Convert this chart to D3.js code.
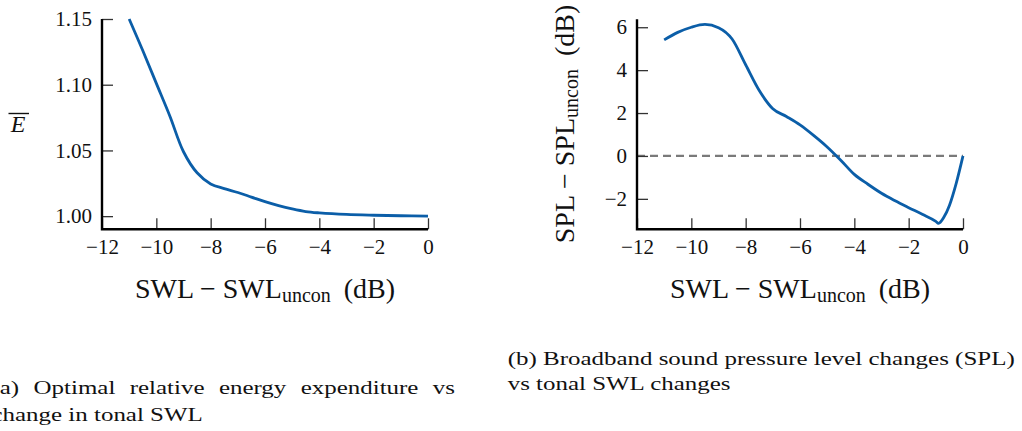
<!DOCTYPE html>
<html>
<head>
<meta charset="utf-8">
<script src="https://cdn.jsdelivr.net/npm/d3@7"></script>
<style>
  html, body { margin: 0; padding: 0; background: #fff; }
  svg text { font-family: "Liberation Serif", "Times New Roman", Times, serif; }
</style>
</head>
<body>
<svg id="fig" width="1022" height="431"></svg>
<script>
// Shared x axis: change in tonal sound power level (dB)
const xTickValues = [-12, -10, -8, -6, -4, -2, 0];

// (a) optimal relative energy expenditure
const energyX = [-11, -10.5, -10, -9.5, -9, -8.5, -8, -7.5, -7, -6.5, -6, -5.5, -5, -4.5, -4, -3, -2, -1, 0];
const energyY = [1.150, 1.126, 1.101, 1.076, 1.049, 1.033, 1.0245, 1.021, 1.018, 1.0145, 1.011, 1.008, 1.0055, 1.0035, 1.0025, 1.0013, 1.0007, 1.0003, 1.000];
const energyTicks = [1.00, 1.05, 1.10, 1.15];

// (b) broadband SPL change
const splX = [-11, -10.5, -10, -9.5, -9, -8.5, -8, -7.5, -7, -6.5, -6, -5.5, -5, -4.5, -4, -3.5, -3, -2.5, -2, -1.5, -1, -0.9, -0.7, -0.5, -0.25, 0];
const splY = [5.41, 5.76, 6.00, 6.13, 5.98, 5.45, 4.25, 3.05, 2.20, 1.84, 1.45, 0.96, 0.42, -0.20, -0.86, -1.32, -1.74, -2.09, -2.41, -2.72, -3.05, -3.14, -2.85, -2.31, -1.28, 0];
const splTicks = [-2, 0, 2, 4, 6];

const captionA = ["(a) Optimal relative energy expenditure vs", "change in tonal SWL"];
const captionB = ["(b) Broadband sound pressure level changes (SPL)", "vs tonal SWL changes"];

const svg = d3.select("#fig");
const BLUE = "#0b5ea8";
const INK = "#111";
const SERIF = "'Liberation Serif', 'Times New Roman', Times, serif";
const minus = d => (d < 0 ? "\u2212" + Math.abs(d) : String(d));

function panel(cfg) {
  const x = d3.scaleLinear().domain([-12, 0]).range([cfg.x0, cfg.x1]);
  const y = d3.scaleLinear().domain(cfg.yDomain).range([cfg.yBottom, cfg.yTop]);
  const g = svg.append("g");

  // reference line at zero
  if (cfg.zeroLine) {
    g.append("line")
      .attr("x1", x(-12)).attr("x2", x(0))
      .attr("y1", y(0)).attr("y2", y(0))
      .attr("stroke", "#7a7a7a").attr("stroke-width", 2.2)
      .attr("stroke-dasharray", "8 5");
  }

  // data curve
  g.append("path")
    .datum(cfg.xs.map((v, i) => [v, cfg.ys[i]]))
    .attr("fill", "none").attr("stroke", BLUE).attr("stroke-width", 2.8)
    .attr("stroke-linejoin", "round")
    .attr("d", d3.line().x(d => x(d[0])).y(d => y(d[1])).curve(cfg.curve));

  // x ticks (inward) and labels
  const gx = g.append("g").attr("transform", `translate(0,${cfg.yBottom})`)
    .call(d3.axisBottom(x).tickValues(xTickValues).tickSizeInner(-11).tickSizeOuter(0)
      .tickPadding(10).tickFormat(minus));
  // y ticks (inward) and labels
  const gy = g.append("g").attr("transform", `translate(${cfg.x0},0)`)
    .call(d3.axisLeft(y).tickValues(cfg.ticks).tickSizeInner(-11).tickSizeOuter(0)
      .tickPadding(10).tickFormat(cfg.fmt));
  [gx, gy].forEach(a => {
    a.attr("font-family", SERIF).attr("font-size", 21);
    a.select(".domain").remove();
    a.selectAll(".tick line").attr("stroke", "#333").attr("stroke-width", 1.3);
    a.selectAll(".tick text").attr("fill", INK).style("font-family", SERIF).style("font-size", "21px");
  });

  // axis lines
  g.append("path")
    .attr("d", `M${cfg.x0},${cfg.yTop}V${cfg.yBottom}H${cfg.x1}`)
    .attr("fill", "none").attr("stroke", "#000").attr("stroke-width", 2.4);

  // x axis title with subscript
  const cx = (cfg.x0 + cfg.x1) / 2;
  const t = g.append("text").attr("x", cx).attr("y", 298)
    .attr("text-anchor", "middle").attr("fill", INK)
    .style("font-family", SERIF).style("font-size", "28px");
  t.append("tspan").text("SWL \u2212 SWL");
  t.append("tspan").text("uncon").style("font-size", "20px").attr("dy", 4);
  t.append("tspan").text("(dB)").attr("dy", -4).attr("dx", 13);
  return { g, x, y };
}

// (a)
const pa = panel({
  x0: 102, x1: 428, yTop: 19, yBottom: 229.3,
  yDomain: [0.99, 1.15], ticks: energyTicks, fmt: d3.format(".2f"),
  xs: energyX, ys: energyY, zeroLine: false, curve: d3.curveCatmullRom.alpha(0.5)
});
pa.g.append("text").attr("x", 18).attr("y", 132).attr("text-anchor", "middle")
  .attr("fill", INK).style("font-family", SERIF).style("font-size", "24px")
  .style("font-style", "italic").text("E");
pa.g.append("line").attr("x1", 8.5).attr("x2", 29).attr("y1", 113.5).attr("y2", 113.5)
  .attr("stroke", INK).attr("stroke-width", 1.4);

// (b)
const pb = panel({
  x0: 637, x1: 963, yTop: 19.3, yBottom: 229.3,
  yDomain: [-3.42, 6.37], ticks: splTicks, fmt: minus,
  xs: splX, ys: splY, zeroLine: true, curve: d3.curveMonotoneX
});
const yl = pb.g.append("text").attr("transform", "translate(574,124) rotate(-90)")
  .attr("text-anchor", "middle").attr("fill", INK)
  .style("font-family", SERIF).style("font-size", "28px");
yl.append("tspan").text("SPL \u2212 SPL");
yl.append("tspan").text("uncon").style("font-size", "20px").attr("dy", 4);
yl.append("tspan").text("(dB)").attr("dy", -4).attr("dx", 13);

// captions: first lines justified to the column width
function captionLine(xStart, yBase, str, width, stretch, justify) {
  const t = svg.append("text").attr("x", xStart).attr("y", yBase)
    .attr("fill", INK).style("font-family", SERIF).style("font-size", "19px").text(str);
  const w0 = t.node().getComputedTextLength();
  if (justify) {
    const n = (str.match(/ /g) || []).length;
    const ws = (width / stretch - w0) / n;
    t.style("word-spacing", ws + "px");
    t.attr("textLength", width).attr("lengthAdjust", "spacingAndGlyphs");
  } else {
    t.attr("textLength", w0 * stretch).attr("lengthAdjust", "spacingAndGlyphs");
  }
  return w0;
}
// glyph stretch set by the full first line of (b)
const probe = svg.append("text").style("font-family", SERIF).style("font-size", "19px").text(captionB[0]);
const stretch = 507 / probe.node().getComputedTextLength();
probe.remove();

captionLine(507.7, 364.5, captionB[0], 507, stretch, true);
captionLine(507.7, 390, captionB[1], 0, stretch, false);
captionLine(-8.5, 393.5, captionA[0], 463.5, stretch, true);
captionLine(-8.5, 420.5, captionA[1], 0, stretch, false);
</script>
</body>
</html>
